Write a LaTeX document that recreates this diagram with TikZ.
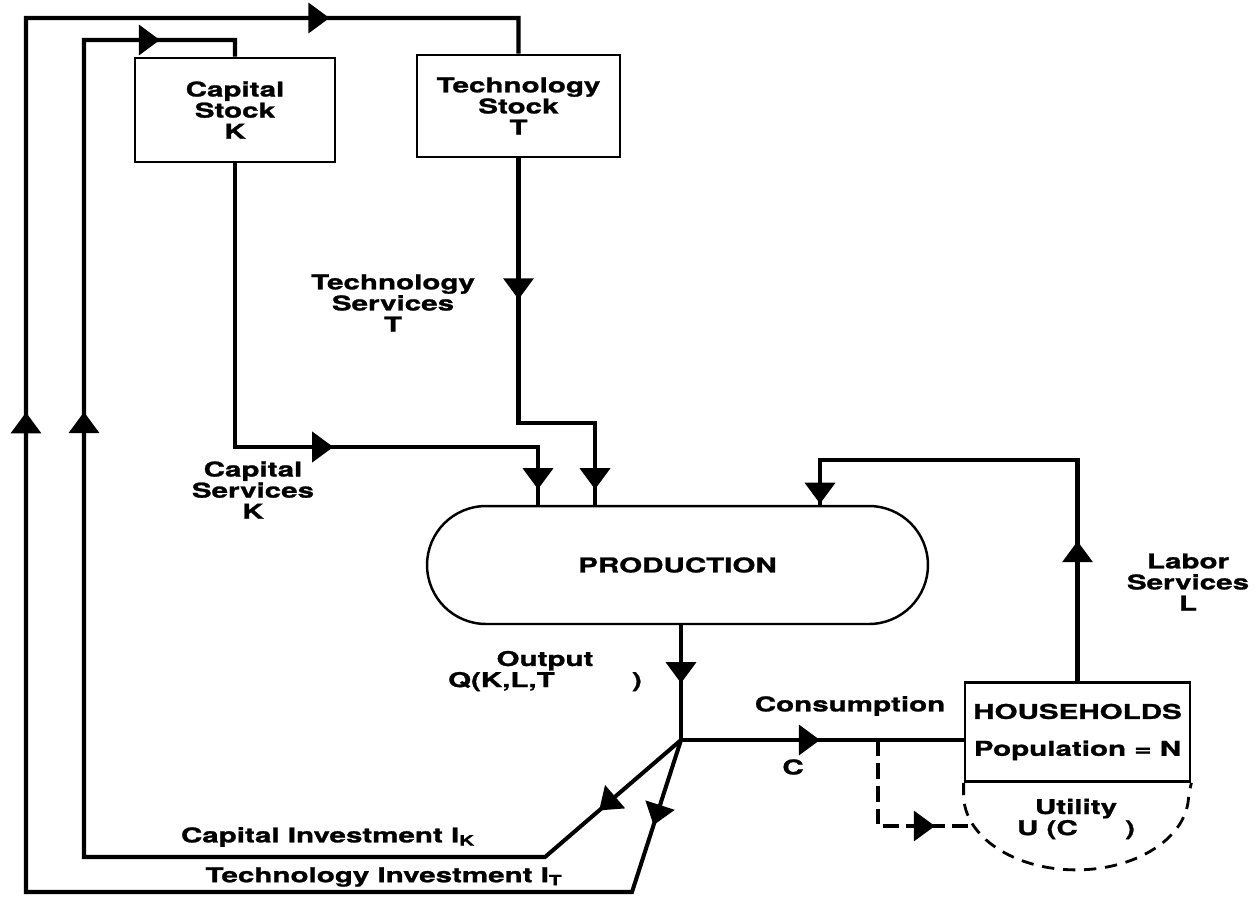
\documentclass[tikz,border=0pt]{standalone}
\usepackage{fontspec}
\setmainfont{TeX Gyre Heros}[FakeStretch=1.45,FakeBold=1.2]
\usetikzlibrary{arrows.meta,decorations.markings}
\begin{document}
\begin{tikzpicture}[x=0.02cm,y=-0.02cm,
  >={Triangle[length=12pt,width=17pt]},
  every node/.style={font=\fontsize{11.6}{12}\selectfont\bfseries, align=center, inner sep=0pt},
  flow/.style={line width=2.3pt},
  stockbox/.style={draw, line width=1.6pt},
  prodshape/.style={draw, line width=1.4pt, rounded corners=1.18cm, minimum width=10.02cm, minimum height=2.36cm},
  arrowat/.style={postaction={decorate,decoration={markings,mark=at position #1 with {\pgfsetdash{}{0pt}\arrow{>}}}}},
  dashflow/.style={line width=2pt, dash pattern=on 9pt off 4pt},
  utilarc/.style={line width=1.6pt, dash pattern=on 7pt off 5pt}]
\useasboundingbox (0,0) rectangle (1256,899);

% boxes
\node[stockbox, minimum width=4cm, minimum height=2.08cm] (cap) at (235,110) {Capital\\Stock\\K};
\node[stockbox, minimum width=4.06cm, minimum height=2.04cm] (tech) at (518.5,106) {Technology\\Stock\\T};
\node[prodshape] (prod) at (677.5,565) {PRODUCTION};
\node[stockbox, minimum width=4.5cm, minimum height=1.98cm] (hh) at (1077.5,732) {HOUSEHOLDS\\[9pt]Population = N};

% labels
\node (techserv) at (393,303) {Technology\\Services\\T};
\node (capserv) at (253,490) {Capital\\Services\\K};
\node (labor) at (1188,582) {Labor\\Services\\L};
\node (output) at (545,671) {Output\\Q(K,L,T\hspace{44pt})};
\node (cons) at (850,706) {Consumption};
\node (clab) at (793,767) {C};
\node (util) at (1076,819) {Utility\\U (C\hspace{27pt})};
\node (capinv) at (328,837) {Capital Investment I\textsubscript{K}};
\node (techinv) at (384,877) {Technology Investment I\textsubscript{T}};

% coordinates
\coordinate (J) at (681,740);
\coordinate (bk) at (545,857);
\coordinate (bt) at (632,892);
\coordinate (ik1) at (84,857);
\coordinate (ik2) at (84,40);
\coordinate (ik3) at (235,40);
\coordinate (it1) at (26,892);
\coordinate (it2) at (26,18);
\coordinate (it3) at (518.5,18);
\coordinate (cs1) at (235,447);
\coordinate (cs2) at (538,447);
\coordinate (ts1) at (518.5,423);
\coordinate (ts2) at (595,423);
\coordinate (ls1) at (1077.5,460);
\coordinate (ls2) at (820,460);
\coordinate (d0) at (878,740);
\coordinate (d1) at (878,826);
\coordinate (d2) at (970,826);

% investment loops
\draw[flow, arrowat=2.16cm, arrowat=21.71cm, arrowat=30.67cm]
  (J) -- (bk) -- (ik1) -- (ik2) -- (ik3) -- (cap.north);
\draw[flow, arrowat=1.79cm, arrowat=24.91cm, arrowat=38.87cm]
  (J) -- (bt) -- (it1) -- (it2) -- (it3) -- (tech.north);

% services into production
\draw[flow, arrowat=7.64cm, arrowat=12.58cm]
  (cap.south) -- (cs1) -- (cs2) -- (cs2 |- prod.north);
\draw[flow, arrowat=2.82cm, arrowat=8.15cm]
  (tech.south) -- (ts1) -- (ts2) -- (ts2 |- prod.north);
\draw[flow, arrowat=2.8cm, arrowat=10.45cm]
  (hh.north) -- (ls1) -- (ls2) -- (ls2 |- prod.north);

% output and consumption
\draw[flow, arrowat=1.16cm] (J |- prod.south) -- (J);
\draw[flow, arrowat=2.78cm] (J) -- (J -| hh.west);

% utility
\draw[dashflow, arrowat=2.86cm] (d0) -- (d1) -- (d2);
\draw[utilarc] (hh.south west) -- ++(0,12) arc[start angle=180, end angle=360, x radius=2.25cm, y radius=1.5cm] -- (hh.south east);
\end{tikzpicture}
\end{document}
